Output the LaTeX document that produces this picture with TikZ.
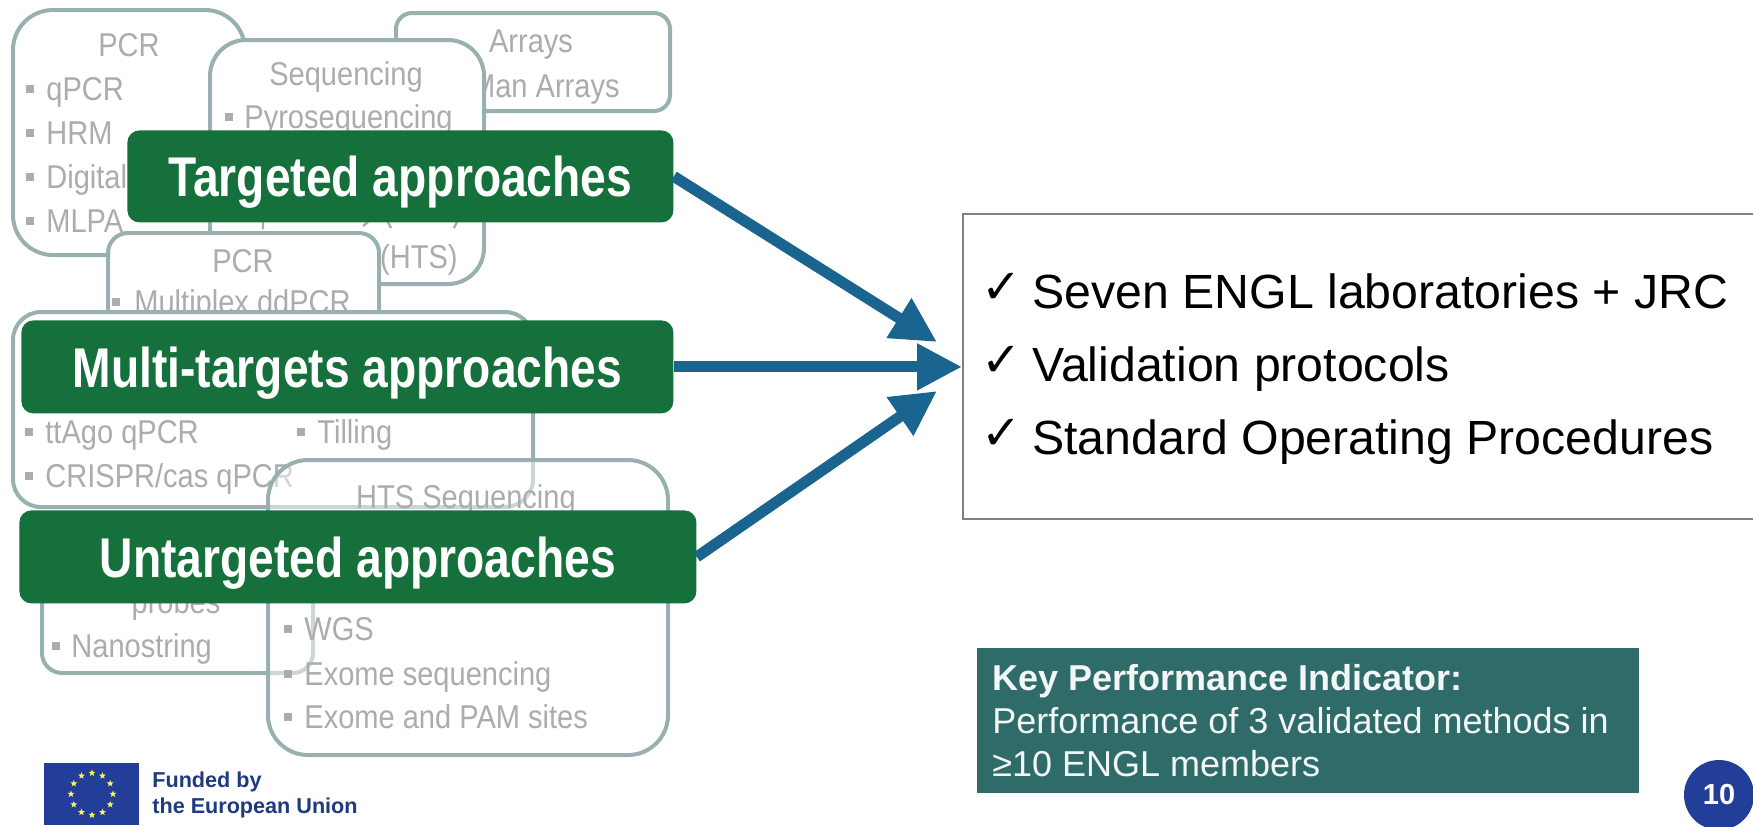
\documentclass[tikz,border=0pt]{standalone}
\usepackage{fontspec}
\usetikzlibrary{arrows.meta,shapes.geometric}
\setmainfont{Liberation Sans}
\newfontfamily\condfont[FakeStretch=0.88]{Liberation Sans}
\newfontfamily\headfont[FakeStretch=0.825]{Liberation Sans}
\newfontfamily\widefont[FakeStretch=1.005]{Liberation Sans}
\newfontfamily\checkfont{DejaVu Sans}
\definecolor{boxline}{HTML}{98B0B0}
\definecolor{greytext}{HTML}{ACACAC}
\definecolor{greenbox}{HTML}{16703B}
\definecolor{arrowblue}{HTML}{1A6490}
\definecolor{kpi}{HTML}{2F6C69}
\definecolor{eublue}{HTML}{233E99}
\definecolor{fundblue}{HTML}{1E3A82}
\tikzset{
  soft/.style={draw=boxline,line width=2pt,fill=white},
  glabel/.style={inner sep=0pt,text=greytext,font=\condfont\fontsize{16.5pt}{18pt}\selectfont},
  gitem/.style={glabel,anchor=base west},
  gtitle/.style={glabel,anchor=base},
  greenhead/.style={draw=none,fill=greenbox,rounded corners=6pt,text=white,align=center,
     inner sep=0pt,text height=24pt,text depth=3.5pt,font=\headfont\bfseries\fontsize{28pt}{30pt}\selectfont},
  bigarrow/.style={draw=arrowblue,line width=5.5pt,-{Triangle[length=22.5pt,width=22pt]}},
  blacktext/.style={inner sep=0pt,anchor=base west,text=black,font=\widefont\fontsize{24pt}{28pt}\selectfont},
  tick/.style={inner sep=0pt,anchor=base west,text=black,font=\checkfont\fontsize{24pt}{26pt}\selectfont},
  kpitext/.style={inner sep=0pt,anchor=base west,text=white!94!kpi,font=\fontsize{18pt}{21pt}\selectfont},
  fundtext/.style={inner sep=0pt,anchor=base west,text=fundblue,font=\bfseries\fontsize{10.8pt}{12pt}\selectfont},
  eustar/.style={star,star points=5,star point ratio=2.4,fill=yellow!65!white,draw=none,inner sep=0pt,minimum size=3.6pt},
}
\newcommand{\itm}[5]{%
  \fill[greytext] (#2-4,#4-15) rectangle (#2+4,#4-7);
  \node[gitem] (#1) at (#3,#4) {#5};}
\begin{document}
\begin{tikzpicture}[x=0.5pt,y=-0.5pt]
\clip (0,0) rectangle (1753,826);
\fill[white] (0,0) rectangle (1753,826);

% first PCR box
\draw[soft,rounded corners=20pt] (13,10) rectangle (245,255);
\node[gtitle] (pcrA) at (129,56) {PCR};
\itm{qpcr}{30}{46}{100}{qPCR}
\itm{hrm}{30}{46}{144}{HRM}
\itm{digital}{30}{46}{188}{Digital}
\itm{mlpa}{30}{46}{232}{MLPA}

% arrays box
\draw[soft,rounded corners=8pt] (396,13) rectangle (670,111);
\node[gtitle] (arrays) at (531,52) {Arrays};
\node[glabel,anchor=base east] (taqman) at (620,97) {TaqMan Arrays};

% sequencing box
\draw[soft,rounded corners=18pt] (210,40) rectangle (484,284);
\node[gtitle] (seq) at (346,85) {Sequencing};
\itm{pyro}{229}{244}{128}{Pyrosequencing}
\node[glabel,anchor=base east] (hts) at (458,268) {(HTS)};
\draw[greytext,line width=1.2pt] (263,222) -- (263,229) (363,226) -- (368,222) (388,222) -- (391,228) (457,222) -- (454,228);

% second PCR box
\draw[soft,rounded corners=10pt] (108,233) rectangle (379,340);
\node[gtitle] (pcrB) at (243,272) {PCR};
\itm{ddpcr}{116}{134}{313}{Multiplex ddPCR}

% multi-target box
\draw[soft,rounded corners=14pt] (13,312) rectangle (533,507);
\itm{ttago}{29}{45}{443}{ttAgo qPCR}
\itm{tilling}{301}{317}{443}{Tilling}
\itm{crispr}{29}{45}{487}{CRISPR/cas qPCR}

% probes box
\draw[soft,rounded corners=10pt] (42,530) rectangle (313,673);
\node[gtitle] (probes) at (176,613) {probes};
\itm{nano}{56}{71}{657}{Nanostring}

% HTS box, see-through
\draw[soft,fill opacity=0.5,rounded corners=20pt] (268,460) rectangle (668,755);
\node[gtitle] (htsseq) at (466,508) {HTS Sequencing};
\itm{wgs}{288}{304}{640}{WGS}
\itm{exome}{288}{304}{685}{Exome sequencing}
\itm{pam}{288}{304}{728}{Exome and PAM sites}

% result box
\node[draw=black!50,line width=1.2pt,fill=white,inner sep=0pt,
      anchor=north west,minimum width=400pt,minimum height=152.5pt] (result) at (962,213) {};
\node[tick] (c1) at (981,303) {✓};
\node[tick] (c2) at (981,376) {✓};
\node[tick] (c3) at (981,449) {✓};
\node[blacktext] (r1) at (1032,308) {Seven ENGL laboratories + JRC};
\node[blacktext] (r2) at (1032,381) {Validation protocols};
\node[blacktext] (r3) at (1032,454) {Standard Operating Procedures};

% green headers
\node[greenhead,minimum width=273pt,minimum height=46pt,anchor=north west] (gT) at (127,130) {Targeted approaches};
\node[greenhead,minimum width=326pt,minimum height=46.5pt,anchor=north west] (gM) at (21,320) {Multi-targets approaches};
\node[greenhead,minimum width=338.5pt,minimum height=46.5pt,anchor=north west] (gU) at (19,510) {Untargeted approaches};

% arrows
\coordinate (tipT) at (937,342);
\coordinate (tipU) at (937,391);
\draw[bigarrow] (gT.east) -- (tipT);
\draw[bigarrow] (gM.east) -- (result.west |- gM.east);
\draw[bigarrow] (gU.east) -- (tipU);

% KPI
\node[fill=kpi,draw=none,inner sep=0pt,anchor=north west,minimum width=331pt,minimum height=72.5pt] (kpibox) at (977,648) {};
\node[kpitext,font=\bfseries\fontsize{18pt}{21pt}\selectfont] (k1) at (992,690) {Key Performance Indicator:};
\node[kpitext] (k2) at (992,733) {Performance of 3 validated methods in};
\node[kpitext] (k3) at (992,776) {≥10 ENGL members};

% page number
\node[circle,fill=eublue,draw=none,minimum size=35pt,inner sep=0pt,text=white,
      font=\bfseries\fontsize{14.5pt}{16pt}\selectfont] (page) at (1719,795) {10};

% EU emblem
\node[fill=eublue,draw=none,inner sep=0pt,anchor=north west,minimum width=47.5pt,minimum height=31pt] (flag) at (44,763) {};
\foreach \i in {1,...,12}
  \node[eustar] (s\i) at ({92+21*cos(30*\i)},{794+21*sin(30*\i)}) {};
\node[fundtext] (f1) at (152,787) {Funded by};
\node[fundtext] (f2) at (152,813) {the European Union};
\end{tikzpicture}
\end{document}
